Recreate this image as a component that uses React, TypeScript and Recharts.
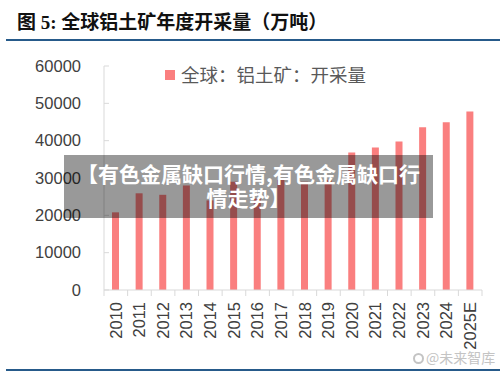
import React from 'react';
import { BarChart, Bar, XAxis, YAxis } from 'recharts';

// ---- data ----
const years = ['2010', '2011', '2012', '2013', '2014', '2015', '2016', '2017', '2018', '2019', '2020', '2021', '2022', '2023', '2024', '2025E'];
const output = [20800, 25900, 25500, 28000, 24000, 29000, 24500, 29500, 29000, 29500, 36800, 38150, 39750, 43600, 44950, 47800];
const yTicks = [0, 10000, 20000, 30000, 40000, 50000, 60000];
const titleText = '图 5: 全球铝土矿年度开采量（万吨）';
const seriesName = '全球：铝土矿：开采量';
const overlayLine1 = '【有色金属缺口行情,有色金属缺口行';
const overlayLine2 = '情走势】';
const watermark = '@未来智库';

const data = years.map((y, i) => ({ year: y, value: output[i] }));

const W = 500;
const H = 373;
const PLOT_LEFT = 104;
const PLOT_RIGHT = 482;
const PLOT_TOP = 66;
const PLOT_BOTTOM = 290;
const HALF_BAND = (PLOT_RIGHT - PLOT_LEFT) / years.length / 2;
const Y_MARGIN = 23;
const X_MARGIN = 12;
const AXIS_COLOR = '#d9d9d9';
const TEXT_COLOR = '#404040';
const BAR_COLOR = '#fa7f7f';
const NUM_FONT = "'Liberation Sans', Arial, sans-serif";
const CJK_FONT = "'Noto Sans CJK SC', sans-serif";

const YTick = (props: any) => {
  const { x, y, payload } = props;
  const ax = x + Y_MARGIN;
  return (
    <g>
      <line x1={ax} x2={ax + 5} y1={y} y2={y} stroke={AXIS_COLOR} />
      <text x={x} y={y} dy="0.35em" textAnchor="end" fill={TEXT_COLOR} fontSize={16.5} fontFamily={NUM_FONT}>
        {payload.value}
      </text>
    </g>
  );
};

const XTick = (props: any) => {
  const { x, y, payload, index } = props;
  const ay = y - X_MARGIN;
  return (
    <g>
      <line x1={x - HALF_BAND} x2={x - HALF_BAND} y1={ay} y2={ay + 6} stroke={AXIS_COLOR} />
      {index === years.length - 1 && (
        <line x1={x + HALF_BAND} x2={x + HALF_BAND} y1={ay} y2={ay + 6} stroke={AXIS_COLOR} />
      )}
      <text
        x={x}
        y={y}
        dy="0.35em"
        transform={`rotate(-90 ${x} ${y})`}
        textAnchor="end"
        fill={TEXT_COLOR}
        fontSize={16.5}
        fontFamily={NUM_FONT}
      >
        {payload.value}
      </text>
    </g>
  );
};

export default function App() {
  return (
    <div style={{ position: 'absolute', left: 0, top: 0, width: W, height: H, background: '#fff', overflow: 'hidden' }}>
      <div
        style={{
          position: 'absolute',
          left: 17,
          top: 11,
          fontSize: 19,
          lineHeight: '23px',
          fontWeight: 'bold',
          fontFamily: "'Liberation Serif', 'Noto Sans CJK SC', serif",
          color: '#111',
          whiteSpace: 'nowrap',
        }}
      >
        {titleText}
      </div>
      <div style={{ position: 'absolute', left: 6, top: 39, width: 494, height: 2, background: '#265a8a' }} />
      <div style={{ position: 'absolute', left: 6, top: 369, width: 494, height: 2, background: '#265a8a' }} />

      <div style={{ position: 'absolute', left: 0, top: 0 }}>
        <BarChart width={W} height={H} data={data} margin={{ top: PLOT_TOP, right: W - PLOT_RIGHT, bottom: 0, left: 0 }}>
          <XAxis
            dataKey="year"
            interval={0}
            height={H - PLOT_BOTTOM}
            tickSize={0}
            tickMargin={X_MARGIN}
            tickLine={false}
            axisLine={{ stroke: AXIS_COLOR }}
            tick={<XTick />}
          />
          <YAxis
            domain={[0, 60000]}
            ticks={yTicks}
            interval={0}
            width={PLOT_LEFT}
            tickSize={0}
            tickMargin={Y_MARGIN}
            tickLine={false}
            axisLine={{ stroke: AXIS_COLOR }}
            tick={<YTick />}
          />
          <Bar dataKey="value" name={seriesName} fill={BAR_COLOR} barSize={7} isAnimationActive={false} />
        </BarChart>
      </div>

      <div style={{ position: 'absolute', left: 165, top: 70, width: 10, height: 10, background: BAR_COLOR }} />
      <div
        style={{
          position: 'absolute',
          left: 181,
          top: 64,
          fontSize: 18.5,
          lineHeight: '20px',
          fontFamily: CJK_FONT,
          color: '#595959',
          whiteSpace: 'nowrap',
        }}
      >
        {seriesName}
      </div>

      <div
        style={{
          position: 'absolute',
          left: 64,
          top: 155,
          width: 369,
          height: 63,
          background: 'rgba(0,0,0,0.4)',
          color: '#fff',
          fontWeight: 'bold',
          fontSize: 21,
          lineHeight: '24px',
          fontFamily: CJK_FONT,
          textAlign: 'center',
          whiteSpace: 'nowrap',
          paddingTop: 6,
          boxSizing: 'border-box',
        }}
      >
        {overlayLine1}
        <br />
        {overlayLine2}
      </div>

      <div
        style={{
          position: 'absolute',
          left: 413,
          top: 348,
          fontSize: 14,
          lineHeight: '18px',
          fontFamily: CJK_FONT,
          color: '#c4c4c4',
          whiteSpace: 'nowrap',
        }}
      >
        <span style={{ display: 'inline-block', width: 11, height: 11, borderRadius: 6, border: '2px solid #c4c4c4', boxSizing: 'border-box', marginRight: 2, verticalAlign: '-1px' }} />
        {watermark}
      </div>
    </div>
  );
}
